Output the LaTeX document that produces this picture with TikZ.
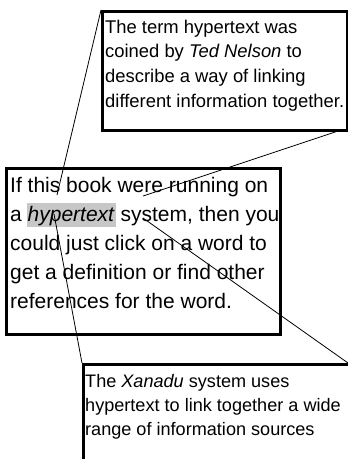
\documentclass[tikz,border=0pt]{standalone}
\usepackage{fontspec}
\setmainfont{Liberation Sans}
\usetikzlibrary{calc}

\tikzset{
  callbox/.style={draw, line width=2.8pt, anchor=north west, inner sep=0pt}, % box round a text
  calltext/.style={anchor=base west, align=left, inner sep=0pt}, % text in a box, base = last line
  leader/.style={line width=0.8pt}, % lines from word to box
}

\begin{document}
\begin{tikzpicture}[x=1pt, y=-1pt]
    \useasboundingbox (0,0) rectangle (348,459);
    \clip (0,0) rectangle (348,459);

    % Kasten oben
    \node[callbox, minimum width=245pt, minimum height=119pt] (term) at (101,10) {};
    \node[calltext, font=\fontsize{18.4}{24.6}\selectfont] (termtext) at (105,107)
      {The term hypertext was\\coined by \textit{Ted Nelson} to\\describe a way of linking\\different information together.};

    % Hauptkasten
    \node[callbox, minimum width=274pt, minimum height=166pt] (book) at (5,167) {};
    \node[fill=black!22, anchor=north west, inner sep=0pt,
      minimum width=89pt, minimum height=24pt] (hl) at (27,203) {};
    \node[calltext, font=\fontsize{21}{29}\selectfont] (booktext) at (10,308)
      {If this book were running on\\a \textit{hypertext} system, then you\\could just click on a word to\\get a definition or find other\\references for the word.};

    % Kasten unten
    \node[callbox, minimum width=300pt, minimum height=140pt] (xan) at (82,363) {};
    \node[calltext, font=\fontsize{18.1}{24}\selectfont] (xantext) at (85,435)
      {The \textit{Xanadu} system uses\\hypertext to link together a wide\\range of information sources};

    % Punkte im Text
    \coordinate (this) at (57,195);
    \coordinate (runn) at (143,196);
    \coordinate (hyp) at (54,214);
    \coordinate (sys) at (143,218);
    \coordinate (termfoot) at ($(term.south west)!0.947!(term.south east)$);
    \coordinate (xanhead) at (348,363);

    % Verbindungen
    \draw[leader] (term.north west) -- (this);
    \draw[leader] (termfoot) -- (runn);
    \draw[leader] (hyp) -- (xan.north west);
    \draw[leader] (sys) -- (xanhead);
\end{tikzpicture}
\end{document}
